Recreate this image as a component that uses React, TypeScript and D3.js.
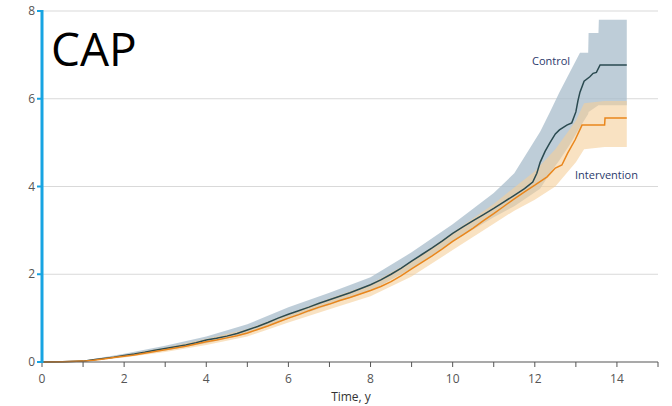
import React from "react";
import * as d3 from "d3";

const controlT = [0, 0.5, 1, 1.25, 1.5, 1.75, 2, 2.25, 2.5, 2.75, 3, 3.25, 3.5, 3.75, 4, 4.25, 4.5, 4.75, 5, 5.25, 5.5, 5.75, 6, 6.25, 6.5, 6.75, 7, 7.25, 7.5, 7.75, 8, 8.25, 8.5, 8.75, 9, 9.25, 9.5, 9.75, 10, 10.25, 10.5, 10.75, 11, 11.25, 11.5, 11.75, 11.95, 12.05, 12.13, 12.25, 12.37, 12.5, 12.6, 12.78, 12.9, 13.0, 13.05, 13.1, 13.2, 13.34, 13.42, 13.5, 13.59, 14.24];
const controlV = [0, 0.005, 0.02, 0.05, 0.08, 0.11, 0.15, 0.18, 0.22, 0.27, 0.31, 0.35, 0.39, 0.44, 0.5, 0.54, 0.59, 0.65, 0.73, 0.81, 0.9, 1.0, 1.09, 1.17, 1.25, 1.34, 1.42, 1.5, 1.58, 1.67, 1.76, 1.87, 2.0, 2.14, 2.3, 2.45, 2.6, 2.76, 2.93, 3.08, 3.22, 3.36, 3.5, 3.65, 3.8, 3.95, 4.1, 4.3, 4.55, 4.8, 5.0, 5.2, 5.29, 5.4, 5.45, 5.7, 5.95, 6.15, 6.4, 6.5, 6.58, 6.6, 6.77, 6.77];

const interT = [0, 0.5, 1, 1.25, 1.5, 1.75, 2, 2.25, 2.5, 2.75, 3, 3.25, 3.5, 3.75, 4, 4.25, 4.5, 4.75, 5, 5.25, 5.5, 5.75, 6, 6.25, 6.5, 6.75, 7, 7.25, 7.5, 7.75, 8, 8.25, 8.5, 8.75, 9, 9.25, 9.5, 9.75, 10, 10.25, 10.5, 10.75, 11, 11.25, 11.5, 11.75, 12, 12.3, 12.5, 12.66, 12.8, 12.98, 13.15, 13.7, 13.71, 14.24];
const interV = [0, 0.005, 0.02, 0.04, 0.07, 0.1, 0.13, 0.16, 0.2, 0.24, 0.28, 0.32, 0.36, 0.41, 0.46, 0.5, 0.55, 0.6, 0.66, 0.74, 0.82, 0.91, 1.0, 1.08, 1.17, 1.25, 1.32, 1.4, 1.47, 1.55, 1.63, 1.72, 1.83, 1.97, 2.12, 2.27, 2.42, 2.58, 2.75, 2.9, 3.05, 3.22, 3.38, 3.55, 3.72, 3.88, 4.03, 4.22, 4.42, 4.49, 4.76, 5.06, 5.4, 5.4, 5.56, 5.56];

const controlBandT = [0, 1, 2, 3, 4, 5, 6, 7, 8, 9, 10, 11, 11.5, 12.13, 12.37, 12.6, 12.85, 13.1, 13.3, 13.31, 13.55, 13.56, 14.24];
const controlLo = [0, 0.01, 0.12, 0.26, 0.43, 0.64, 0.98, 1.3, 1.62, 2.13, 2.74, 3.3, 3.55, 3.95, 4.3, 4.6, 4.95, 5.35, 5.65, 5.7, 5.85, 5.85, 5.85];
const controlHi = [0, 0.03, 0.19, 0.37, 0.58, 0.86, 1.25, 1.58, 1.93, 2.5, 3.14, 3.85, 4.3, 5.25, 5.7, 6.15, 6.6, 7.05, 7.05, 7.5, 7.5, 7.8, 7.8];

const interBandT = [0, 1, 2, 3, 4, 5, 6, 7, 8, 9, 10, 11, 11.5, 12, 12.5, 13, 13.2, 13.7, 14.24];
const interLo = [0, 0.01, 0.1, 0.23, 0.39, 0.58, 0.9, 1.2, 1.5, 1.95, 2.55, 3.15, 3.45, 3.7, 4.0, 4.55, 4.85, 4.9, 4.9];
const interHi = [0, 0.03, 0.16, 0.33, 0.53, 0.75, 1.1, 1.45, 1.78, 2.3, 2.95, 3.6, 3.98, 4.35, 4.85, 5.5, 5.9, 5.95, 5.95];

const xTicks = d3.range(0, 16);
const xLabels = [0, 2, 4, 6, 8, 10, 12, 14];
const yTicks = [0, 2, 4, 6, 8];

export default function App() {
  const W = 672, H = 406;
  const x = d3.scaleLinear().domain([0, 15]).range([42, 658]);
  const y = d3.scaleLinear().domain([0, 8]).range([362, 11]);

  const line = d3.line<[number, number]>().x(d => x(d[0])).y(d => y(d[1]));
  const area = d3.area<[number, number, number]>().x(d => x(d[0])).y0(d => y(d[1])).y1(d => y(d[2]));

  const cLine = line(controlT.map((t, i) => [t, controlV[i]] as [number, number])) || "";
  const iLine = line(interT.map((t, i) => [t, interV[i]] as [number, number])) || "";
  const cBand = area(controlBandT.map((t, i) => [t, controlLo[i], controlHi[i]] as [number, number, number])) || "";
  const iBand = area(interBandT.map((t, i) => [t, interLo[i], interHi[i]] as [number, number, number])) || "";

  return (
    <svg width={W} height={H} style={{ position: "absolute", left: 0, top: 0, background: "#fff" }} fontFamily="'Open Sans', sans-serif">
      {yTicks.filter(v => v > 0).map(v => (
        <line key={"g" + v} x1={42} x2={658} y1={y(v)} y2={y(v)} stroke="#d9d9d9" strokeWidth={1.2} />
      ))}
      <path d={cBand} fill="#a8bccb" opacity={0.75} />
      <path d={iBand} fill="#f5cf9a" opacity={0.6} />
      <path d={cLine} fill="none" stroke="#2a4a50" strokeWidth={1.5} />
      <path d={iLine} fill="none" stroke="#e9861c" strokeWidth={1.5} />
      <line x1={42} x2={658} y1={362} y2={362} stroke="#555" strokeWidth={1.2} />
      {xTicks.map(t => (
        <line key={"xt" + t} x1={x(t)} x2={x(t)} y1={362} y2={367} stroke="#555" strokeWidth={1} />
      ))}
      {xLabels.map(t => (
        <text key={"xl" + t} x={x(t)} y={383} textAnchor="middle" fontSize={12} fill="#555">{t}</text>
      ))}
      <text x={351} y={401} textAnchor="middle" fontSize={12} fill="#333">Time, y</text>
      <line x1={42} x2={42} y1={10} y2={363} stroke="#17a4e2" strokeWidth={3} />
      {yTicks.map(v => (
        <line key={"yt" + v} x1={37} x2={42} y1={y(v)} y2={y(v)} stroke="#17a4e2" strokeWidth={2} />
      ))}
      {yTicks.map(v => (
        <text key={"yl" + v} x={35} y={y(v) + 4} textAnchor="end" fontSize={12} fill="#555">{v}</text>
      ))}
      <text x={532} y={65} fontSize={11} fill="#2b3a6b">Control</text>
      <text x={575} y={179} fontSize={11} fill="#2b3a6b">Intervention</text>
      <text x={51} y={66} fontSize={46} fill="#000">CAP</text>
    </svg>
  );
}
